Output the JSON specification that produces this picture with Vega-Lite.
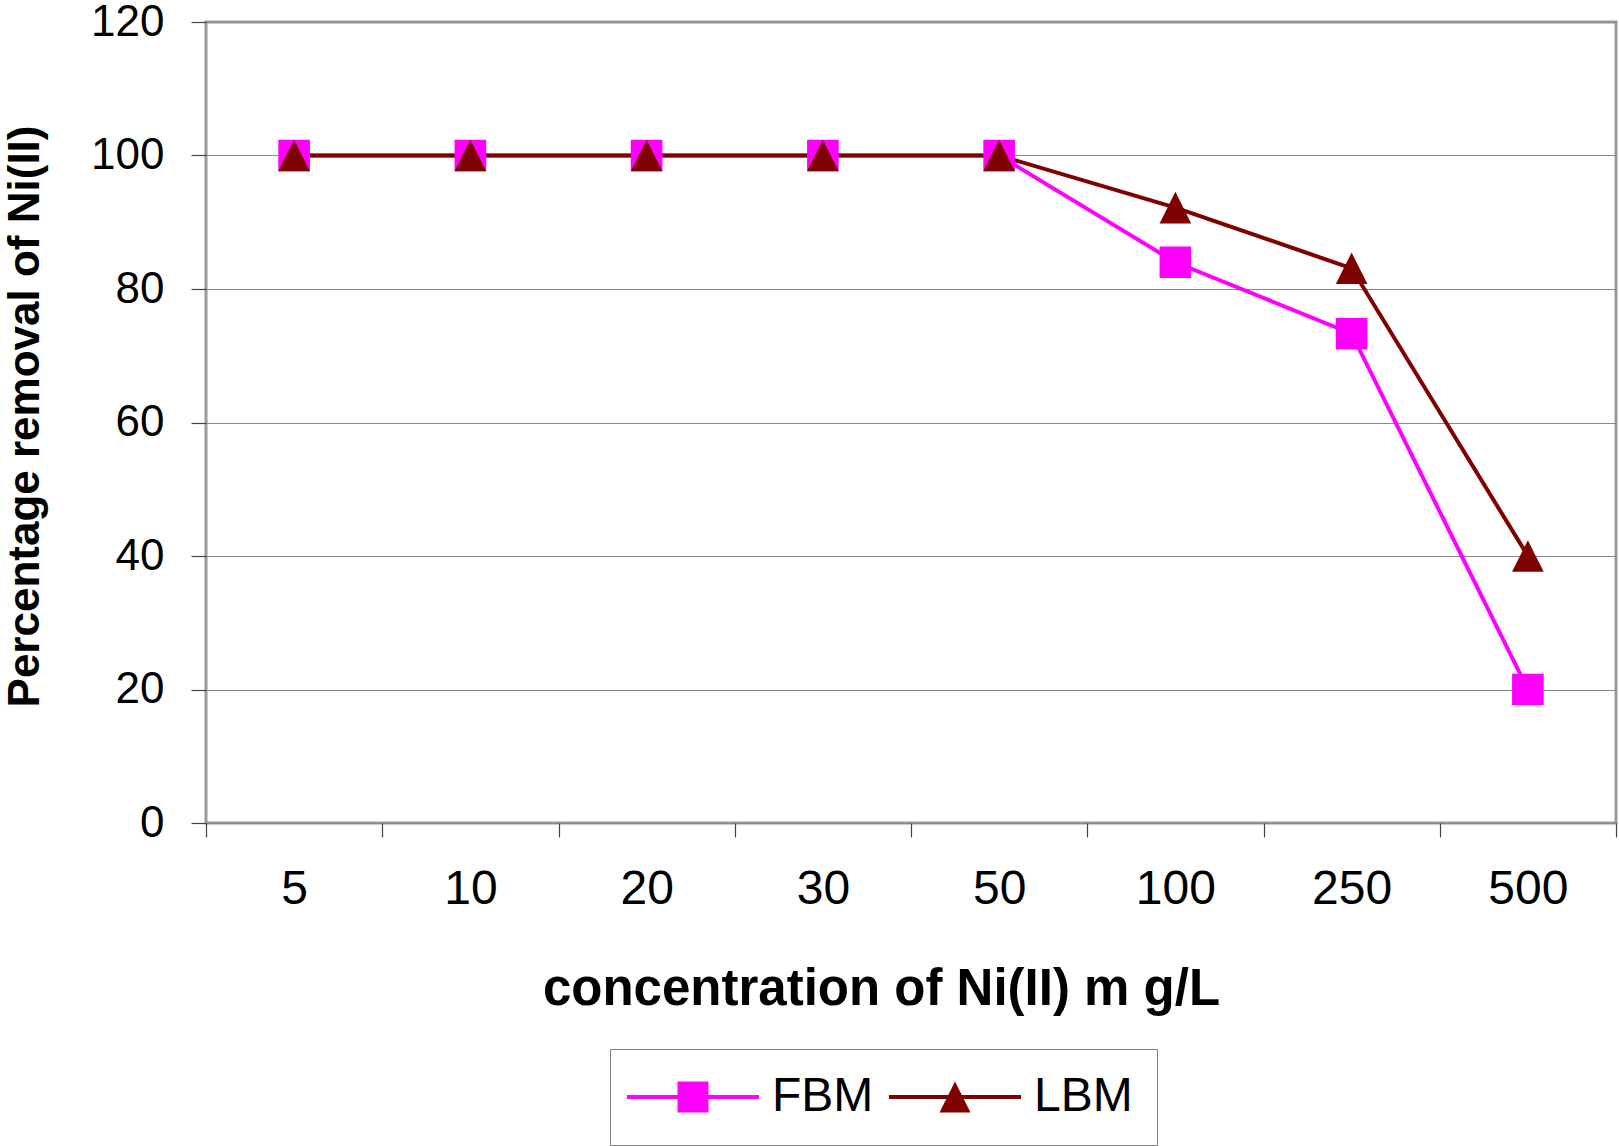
{
  "$schema": "https://vega.github.io/schema/vega-lite/v6.json",
  "autosize": {"type": "none"},
  "padding": {"left": 206, "top": 22, "right": 3, "bottom": 323},
  "width": 1410,
  "height": 801,
  "background": "white",
  "config": {
    "font": "Liberation Sans",
    "view": {"stroke": "#9a9a9a", "strokeWidth": 3},
    "axis": {"domain": false, "tickColor": "#444444", "tickWidth": 1.2, "labelColor": "black", "titleColor": "black", "labelFont": "Liberation Sans", "titleFont": "Liberation Sans"}
  },
  "data": {
    "values": [
      {"conc": "5", "series": "FBM", "removal": 100},
      {"conc": "10", "series": "FBM", "removal": 100},
      {"conc": "20", "series": "FBM", "removal": 100},
      {"conc": "30", "series": "FBM", "removal": 100},
      {"conc": "50", "series": "FBM", "removal": 100},
      {"conc": "100", "series": "FBM", "removal": 84},
      {"conc": "250", "series": "FBM", "removal": 73.3},
      {"conc": "500", "series": "FBM", "removal": 20},
      {"conc": "5", "series": "LBM", "removal": 100},
      {"conc": "10", "series": "LBM", "removal": 100},
      {"conc": "20", "series": "LBM", "removal": 100},
      {"conc": "30", "series": "LBM", "removal": 100},
      {"conc": "50", "series": "LBM", "removal": 100},
      {"conc": "100", "series": "LBM", "removal": 92.2},
      {"conc": "250", "series": "LBM", "removal": 83.1},
      {"conc": "500", "series": "LBM", "removal": 40}
    ]
  },
  "encoding": {
    "x": {
      "field": "conc", "type": "ordinal",
      "sort": ["5", "10", "20", "30", "50", "100", "250", "500"],
      "scale": {"type": "band", "paddingInner": 0, "paddingOuter": 0},
      "axis": {
        "title": "concentration of Ni(II) m g/L",
        "titleFontSize": 51, "titleFontWeight": "bold",
        "titleX": 675, "titleY": 166, "titleBaseline": "middle", "titleAlign": "center",
        "labelFontSize": 48, "labelAngle": 0, "labelBaseline": "middle",
        "tickSize": 14, "labelPadding": 52, "tickBand": "extent", "grid": false
      }
    },
    "y": {
      "field": "removal", "type": "quantitative",
      "scale": {"domain": [0, 120], "nice": false, "zero": true},
      "axis": {
        "title": "Percentage removal of Ni(II)",
        "titleFontSize": 44, "titleFontWeight": "bold",
        "titleX": -181, "titleY": 394, "titleBaseline": "middle", "titleAlign": "center", "titleAngle": 270,
        "values": [0, 20, 40, 60, 80, 100, 120],
        "labelFontSize": 44, "labelPadding": 27, "tickSize": 15,
        "grid": true, "gridColor": "#888888", "gridWidth": 1.2
      }
    },
    "color": {
      "field": "series", "type": "nominal",
      "scale": {"domain": ["FBM", "LBM"], "range": ["#FF00FF", "#800000"]},
      "legend": {
        "title": null, "orient": "none", "legendX": 404, "legendY": 1027,
        "direction": "horizontal",
        "labelFontSize": 48, "labelColor": "black",
        "symbolSize": 961, "symbolOffset": 35, "labelOffset": 55,
        "columnPadding": 14, "padding": 24,
        "strokeColor": "#808080", "fillColor": "white",
        "symbolStrokeWidth": 0, "symbolOpacity": 1
      }
    }
  },
  "layer": [
    {
      "mark": {"type": "point", "filled": true, "size": 961, "opacity": 0, "strokeWidth": 0},
      "encoding": {
        "shape": {
          "field": "series", "type": "nominal",
          "scale": {"domain": ["FBM", "LBM"], "range": ["M-4.26,-0.13L4.26,-0.13L4.26,0.13L-4.26,0.13ZM-1,-1L1,-1L1,1L-1,1Z", "M-4.26,-0.13L4.26,-0.13L4.26,0.13L-4.26,0.13ZM0,-1L1,1L-1,1Z"]},
          "legend": null
        }
      }
    },
    {
      "mark": {"type": "line", "strokeWidth": 4},
      "encoding": {"detail": {"field": "series"}}
    },
    {
      "transform": [{"filter": "datum.series === 'FBM'"}],
      "mark": {"type": "point", "filled": true, "size": 1000, "opacity": 1, "strokeWidth": 0, "shape": "square"}
    },
    {
      "transform": [{"filter": "datum.series === 'LBM'"}],
      "mark": {"type": "point", "filled": true, "size": 1000, "opacity": 1, "strokeWidth": 0, "shape": "M0,-1L1,1L-1,1Z"}
    }
  ]
}
